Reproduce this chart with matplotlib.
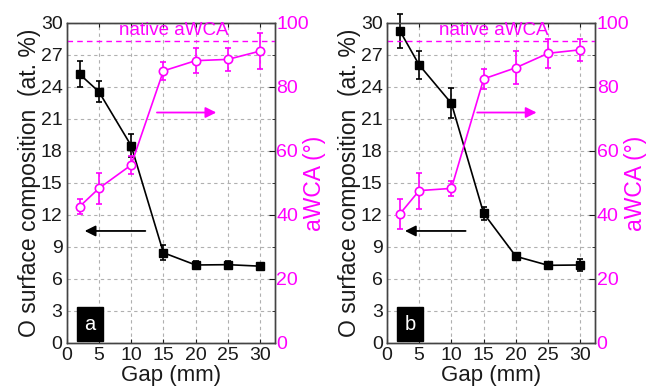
import matplotlib.pyplot as plt
import numpy as np

plt.rcParams['font.family'] = ['Liberation Sans', 'DejaVu Sans']

gap = [2, 5, 10, 15, 20, 25, 30]

# panel a
o_a = [25.2, 23.55, 18.5, 8.46, 7.31, 7.34, 7.2]
o_a_err = [1.2, 1.0, 1.05, 0.7, 0.35, 0.3, 0.15]
wca_a = [42.6, 48.3, 55.6, 85.0, 88.2, 88.6, 91.2]
wca_a_err = [2.3, 4.8, 2.8, 2.9, 4.0, 3.6, 5.6]

# panel b
o_b = [29.27, 26.06, 22.46, 12.15, 8.12, 7.28, 7.31]
o_b_err = [1.6, 1.3, 1.4, 0.6, 0.2, 0.2, 0.6]
wca_b = [40.3, 47.6, 48.3, 82.5, 86.0, 90.5, 91.6]
wca_b_err = [4.6, 5.6, 2.4, 3.0, 5.2, 4.6, 3.4]

native_wca = 94.4
labels = ['a', 'b']

MAG = '#ff00ff'
SPINE = '#444444'
TXT = '#1a1a1a'

fig = plt.figure(figsize=(6.47, 3.88), dpi=100)
lefts = [0.103, 0.598]
panels = [(o_a, o_a_err, wca_a, wca_a_err), (o_b, o_b_err, wca_b, wca_b_err)]

for left, (o, oe, w, we), lab in zip(lefts, panels, labels):
    ax = fig.add_axes([left, 0.116, 0.322, 0.825])
    ax2 = ax.twinx()

    ax.set_xlim(0, 32.3)
    ax.set_ylim(0, 30)
    ax2.set_ylim(0, 100)
    ax.set_xticks(np.arange(0, 31, 5))
    ax.set_yticks(np.arange(0, 31, 3))
    ax2.set_yticks(np.arange(0, 101, 20))
    ax2.set_yticks(np.arange(10, 100, 20), minor=True)

    ax.grid(True, color='#b0b0b0', linestyle=(0, (3, 3)), linewidth=0.8)
    ax.set_axisbelow(True)

    for a in (ax, ax2):
        for s in a.spines.values():
            s.set_color(SPINE)
            s.set_linewidth(1.0)

    ax.tick_params(axis='both', direction='in', length=0, labelsize=14,
                   pad=3, colors=TXT)
    ax.tick_params(axis='x', length=3, top=True, pad=3)
    ax2.tick_params(axis='y', which='major', direction='in', length=4,
                    labelsize=14, labelcolor=MAG, color=TXT, pad=1)
    ax2.tick_params(axis='y', which='minor', direction='in', length=2.5,
                    color=TXT)

    ax.errorbar(gap, o, yerr=oe, color='black', marker='s', markersize=5.5,
                linewidth=1.2, elinewidth=1.2, capsize=2.5, capthick=1.2,
                zorder=5, clip_on=False)
    ax2.errorbar(gap, w, yerr=we, color=MAG, marker='o', markersize=6,
                 markerfacecolor='white', markeredgecolor=MAG,
                 markeredgewidth=1.2, linewidth=1.2, elinewidth=1.2,
                 capsize=2.5, capthick=1.2, zorder=5)
    ax2.axhline(native_wca, color=MAG, linestyle=(0, (4, 3)), linewidth=1.0)
    ax2.text(16.6, native_wca + 0.6, 'native aWCA', color=MAG, fontsize=13.5,
             ha='center', va='bottom')

    ax.annotate('', xy=(23.2, 21.6), xytext=(14.0, 21.6),
                arrowprops=dict(arrowstyle='-|>', color=MAG, lw=1.3,
                                mutation_scale=16, shrinkA=0, shrinkB=0))
    ax.annotate('', xy=(2.8, 10.5), xytext=(12.2, 10.5),
                arrowprops=dict(arrowstyle='-|>', color='black', lw=1.3,
                                mutation_scale=16, shrinkA=0, shrinkB=0))

    ax.text(3.6, 1.75, lab, color='white', fontsize=14.5, ha='center',
            va='center', bbox=dict(boxstyle='square,pad=0.38', fc='black',
                                   ec='black'), zorder=6)

    ax.set_xlabel('Gap (mm)', fontsize=16, labelpad=0.5, color=TXT)
    ax.set_ylabel('O surface composition  (at. %)', fontsize=16.5,
                  labelpad=0, color=TXT)
    ax2.set_ylabel('aWCA (°)', fontsize=16.5, color=MAG, labelpad=-4)

fig.savefig('out.png', dpi=100)
